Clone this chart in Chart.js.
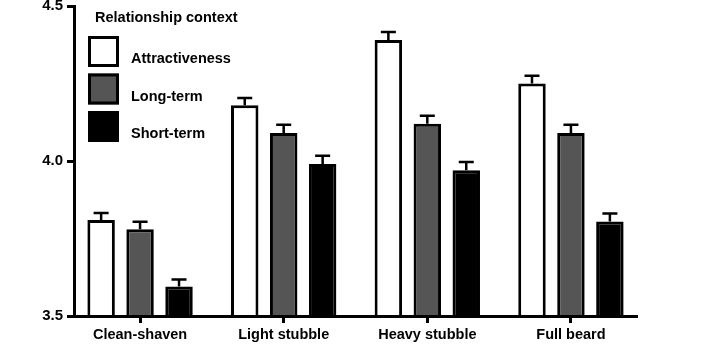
<!DOCTYPE html>
<html><head><meta charset="utf-8">
<script src="https://cdn.jsdelivr.net/npm/chart.js@4"></script>
<style>html,body{margin:0;padding:0;background:#fff}#wrap{width:703px;height:350px}</style>
</head><body><div id="wrap"><canvas id="c" width="703" height="350"></canvas></div>
<script>
const categories = ['Clean-shaven', 'Light stubble', 'Heavy stubble', 'Full beard'];
const seriesNames = ['Attractiveness', 'Long-term', 'Short-term'];
const attractiveness = [3.81, 4.18, 4.39, 4.25];
const longTerm = [3.78, 4.09, 4.12, 4.09];
const shortTerm = [3.595, 3.99, 3.97, 3.805];
const attractivenessSE = [0.022, 0.023, 0.026, 0.025];
const longTermSE = [0.024, 0.027, 0.026, 0.027];
const shortTermSE = [0.023, 0.027, 0.027, 0.026];
const yTicks = [3.5, 4.0, 4.5];
const legendTitle = 'Relationship context';

const FONT = "'Liberation Sans', Arial, Helvetica, sans-serif";

function toPoints(vals) { return vals.map((v, i) => ({ x: i, y: v })); }

const errorBars = {
  id: 'errorBars',
  afterDatasetsDraw(chart) {
    const ctx = chart.ctx;
    const ys = chart.scales.y;
    ctx.save();
    ctx.strokeStyle = '#000';
    ctx.lineWidth = 2.5;
    chart.data.datasets.forEach((ds, i) => {
      const meta = chart.getDatasetMeta(i);
      meta.data.forEach((bar, j) => {
        const v = ds.data[j].y;
        const top = ys.getPixelForValue(v + ds.errors[j]);
        ctx.beginPath();
        ctx.moveTo(bar.x, bar.y);
        ctx.lineTo(bar.x, top);
        ctx.moveTo(bar.x - 7.5, top);
        ctx.lineTo(bar.x + 7.5, top);
        ctx.stroke();
      });
    });
    ctx.restore();
  }
};

const boxLegend = {
  id: 'boxLegend',
  afterDraw(chart) {
    const ctx = chart.ctx;
    ctx.save();
    ctx.font = 'bold 14.5px ' + FONT;
    ctx.fillStyle = '#000';
    ctx.textBaseline = 'middle';
    ctx.textAlign = 'left';
    ctx.fillText(legendTitle, 95, 18);
    chart.data.datasets.forEach((ds, i) => {
      const top = 36 + i * 37.5;
      ctx.fillStyle = ds.backgroundColor;
      ctx.fillRect(88, top, 31, 31);
      ctx.strokeStyle = '#000';
      ctx.lineWidth = 3;
      ctx.strokeRect(89.5, top + 1.5, 28, 28);
      ctx.fillStyle = '#000';
      ctx.fillText(ds.label, 131, top + 23);
    });
    ctx.restore();
  }
};

new Chart(document.getElementById('c'), {
  type: 'bar',
  data: {
    datasets: [
      { label: seriesNames[0], data: toPoints(attractiveness), errors: attractivenessSE, backgroundColor: '#ffffff', borderColor: '#000', borderWidth: 3 },
      { label: seriesNames[1], data: toPoints(longTerm), errors: longTermSE, backgroundColor: '#555555', borderColor: '#000', borderWidth: 3 },
      { label: seriesNames[2], data: toPoints(shortTerm), errors: shortTermSE, backgroundColor: '#000000', borderColor: '#000', borderWidth: 3 }
    ]
  },
  options: {
    responsive: false,
    devicePixelRatio: 1,
    animation: false,
    categoryPercentage: 0.8136,
    barPercentage: 0.705,
    layout: { padding: { top: 6, right: 66, left: 0, bottom: 0 } },
    plugins: { legend: { display: false }, tooltip: { enabled: false } },
    scales: {
      x: {
        type: 'linear',
        min: -0.46,
        max: 3.46,
        offset: false,
        afterBuildTicks(s) { s.ticks = categories.map((c, i) => ({ value: i })); },
        afterFit(s) { s.height = 34; s.paddingLeft = 0; s.paddingRight = 0; },
        ticks: {
          autoSkip: false, maxRotation: 0, padding: 3, color: '#000',
          font: { family: FONT, size: 14.5, weight: 'bold' },
          callback: (v) => categories[v]
        },
        grid: { drawOnChartArea: false, offset: false, drawTicks: true, tickLength: 7, tickWidth: 3, tickColor: '#000' },
        border: { display: true, color: '#000', width: 3, z: 1 }
      },
      y: {
        type: 'linear',
        min: 3.5,
        max: 4.5,
        afterBuildTicks(s) { s.ticks = yTicks.map(v => ({ value: v })); },
        afterFit(s) { s.width = 74; s.paddingTop = 0; s.paddingBottom = 0; },
        ticks: {
          padding: 4, color: '#000',
          font: { family: FONT, size: 15, weight: 'bold' },
          callback: (v) => Number(v).toFixed(1)
        },
        grid: { drawOnChartArea: false, drawTicks: true, tickLength: 7, tickWidth: 3, tickColor: '#000' },
        border: { display: true, color: '#000', width: 3, z: 1 }
      }
    }
  },
  plugins: [errorBars, boxLegend]
});
</script>
</body></html>
